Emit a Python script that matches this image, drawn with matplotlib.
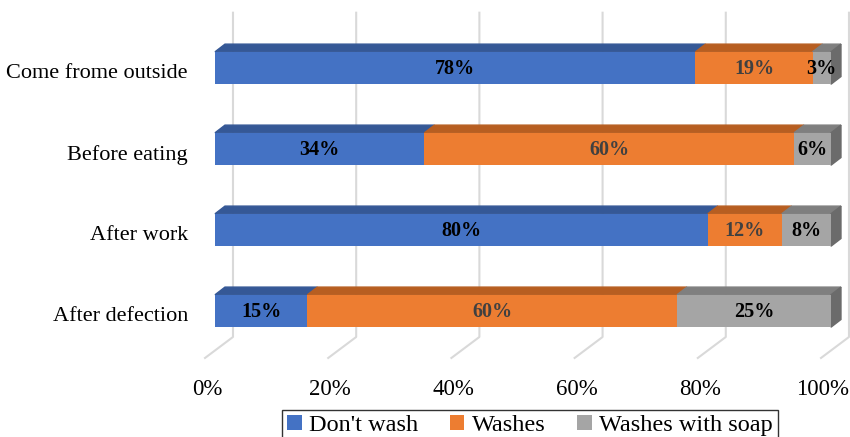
import numpy as np
import matplotlib.pyplot as plt
from matplotlib.patches import Polygon

# data (percent)
categories = ['Come frome outside', 'Before eating', 'After work', 'After defection']
dont_wash = [78, 34, 80, 15]
washes = [19, 60, 12, 60]
washes_soap = [3, 6, 8, 25]
series_names = ["Don't wash", 'Washes', 'Washes with soap']
ticks = [0, 20, 40, 60, 80, 100]

front = ['#4472C4', '#ED7D31', '#A5A5A5']
topc = ['#355896', '#B75E21', '#7F7F7F']
side = '#6B6B6B'
label_col = ['black', '#404040', 'black']

plt.rcParams['font.family'] = ['Liberation Serif', 'DejaVu Serif']

fig = plt.figure(figsize=(8.5, 4.37), dpi=100)
# axes spans the bars' front faces horizontally, whole figure vertically
ax = fig.add_axes([215 / 850, 0, 616 / 850, 1])
ax.set_xlim(0, 100)
ax.set_ylim(4.556, -0.840)
ax.axis('off')

# 3d look: depth offsets in data units
dx, dy = 1.62, -0.095          # bar depth
bx = 2.92                      # back wall shift
fx = -1.62                     # floor front shift
grid_top, grid_bot, floor_front = -0.683, 3.321, 3.580
h = 0.40

for v in ticks:
    ax.plot([v + bx, v + bx, v + fx], [grid_top, grid_bot, floor_front],
            color='#D9D9D9', lw=1.5, clip_on=False, zorder=0)
    ax.text(v - 1.3, 3.97, f'{v}%', ha='center', va='center', fontsize=16.5,
            clip_on=False)

y = np.arange(len(categories))
data = [dont_wash, washes, washes_soap]
left = np.zeros(len(categories))
for k, vals in enumerate(data):
    vals = np.array(vals, dtype=float)
    ax.barh(y, vals, left=left, height=h, color=front[k], zorder=2,
            label=series_names[k])
    for i in range(len(y)):
        x0, x1 = left[i], left[i] + vals[i]
        t = y[i] - h / 2
        ax.add_patch(Polygon([(x0, t), (x1, t), (x1 + dx, t + dy), (x0 + dx, t + dy)],
                             closed=True, color=topc[k], zorder=1, clip_on=False))
        ax.text((x0 + x1) / 2, y[i] + 0.01, f'{vals[i]:.0f}%', ha='center', va='center',
                fontsize=14.5, fontweight='bold', color=label_col[k], zorder=5)
    left += vals

# right side face of the last segment
for i in range(len(y)):
    t, b = y[i] - h / 2, y[i] + h / 2
    ax.add_patch(Polygon([(left[i], t), (left[i] + dx, t + dy),
                          (left[i] + dx, b + dy), (left[i], b)],
                         closed=True, color=side, zorder=1, clip_on=False))

for i, c in enumerate(categories):
    ax.text(-4.4, y[i] + 0.07, c, ha='right', va='center', fontsize=16, clip_on=False)

leg = fig.legend(loc='upper center', bbox_to_anchor=(530 / 850, 1 - 410 / 437),
                 ncol=3, fontsize=17.5, frameon=True, fancybox=False,
                 handlelength=0.6, handleheight=0.6, handletextpad=0.3,
                 columnspacing=1.3, borderpad=0.2, borderaxespad=0)
leg.get_frame().set_edgecolor('black')
leg.get_frame().set_linewidth(1.0)

fig.savefig('out.png', dpi=100)
